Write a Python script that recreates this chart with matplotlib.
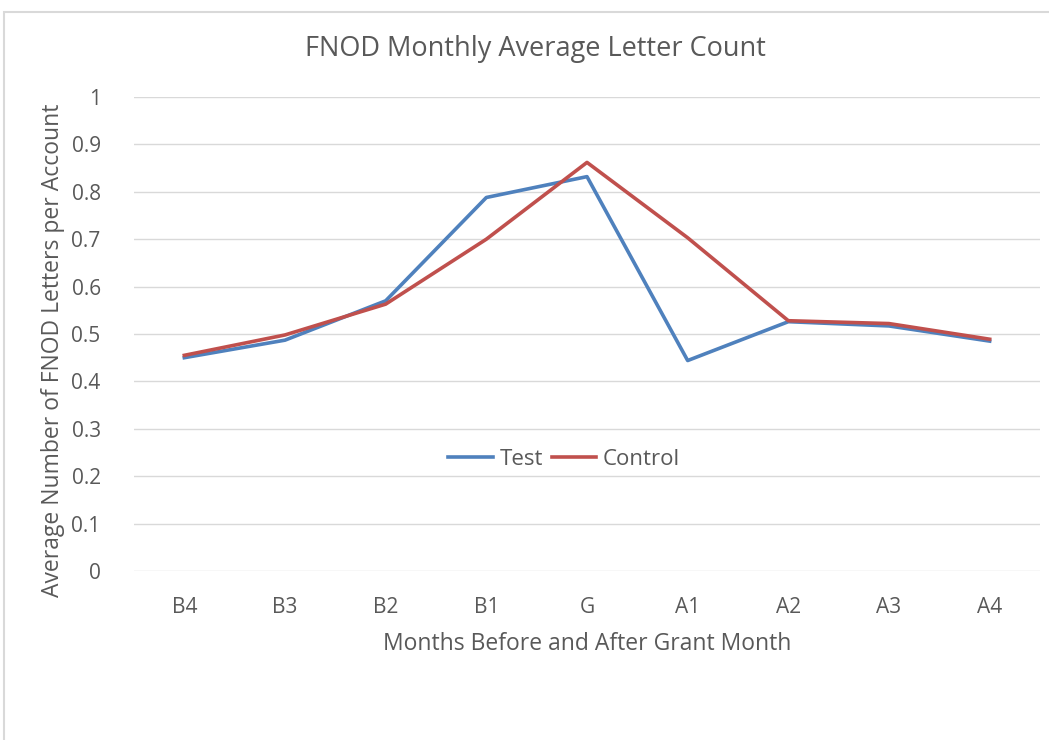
import matplotlib.pyplot as plt
from matplotlib.patches import Rectangle

months = ["B4", "B3", "B2", "B1", "G", "A1", "A2", "A3", "A4"]
test = [0.450, 0.487, 0.570, 0.788, 0.832, 0.444, 0.526, 0.517, 0.485]
control = [0.455, 0.498, 0.563, 0.700, 0.862, 0.703, 0.528, 0.522, 0.489]
yticks = [0, 0.1, 0.2, 0.3, 0.4, 0.5, 0.6, 0.7, 0.8, 0.9, 1]
ytick_labels = ["0", "0.1", "0.2", "0.3", "0.4", "0.5", "0.6", "0.7", "0.8", "0.9", "1"]

plt.rcParams['font.family'] = ['Open Sans', 'DejaVu Sans']
TXT = "#595959"

W, H = 1049, 740
fig = plt.figure(figsize=(W / 100, H / 100), dpi=100)
# chart outer frame (cropped on right/bottom)
fig.patches.append(Rectangle((4 / W, -0.1), 1.2, 1 - 12 / H + 0.1,
                             transform=fig.transFigure, fill=False,
                             edgecolor="#D9D9D9", linewidth=1.5))

ax = fig.add_axes([134 / W, 1 - 571 / H, (1040 - 134) / W, (571 - 97) / H])
x = range(len(months))
ax.plot(x, test, color="#4F81BD", linewidth=2.6, label="Test", solid_joinstyle="round")
ax.plot(x, control, color="#C0504D", linewidth=2.6, label="Control", solid_joinstyle="round")

ax.set_xlim(-0.5, len(months) - 0.5)
ax.set_ylim(0, 1)
ax.set_yticks(yticks)
ax.set_yticklabels(ytick_labels)
ax.set_xticks(list(x))
ax.set_xticklabels(months)
ax.tick_params(axis="both", length=0, labelsize=15, colors=TXT)
ax.tick_params(axis="y", pad=24)
ax.tick_params(axis="x", pad=19)
ax.grid(axis="y", color="#D9D9D9", linewidth=1)
ax.set_axisbelow(True)
for s in ax.spines.values():
    s.set_visible(False)

fig.text(535 / W, 1 - 49 / H, "FNOD Monthly Average Letter Count", fontsize=19.5,
         color=TXT, ha="center", va="center")
fig.text(587 / W, 1 - 644 / H, "Months Before and After Grant Month", fontsize=16.5,
         color=TXT, ha="center", va="center")
fig.text(53 / W, 1 - 350 / H, "Average Number of FNOD Letters per Account", fontsize=16.5,
         color=TXT, ha="center", va="center", rotation=90)

leg = ax.legend(loc="center", bbox_to_anchor=(0.475, 0.235), ncol=2, frameon=False,
                fontsize=16, handlelength=2.0, columnspacing=0.4, handletextpad=0.3)
for t in leg.get_texts():
    t.set_color(TXT)

fig.savefig("out.png", dpi=100, facecolor="white")
